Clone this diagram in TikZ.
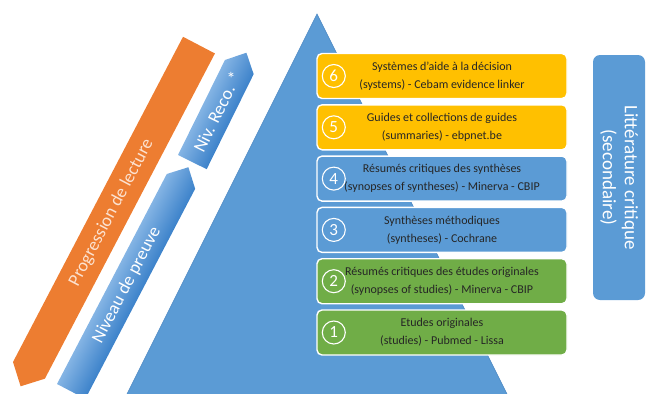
\documentclass[tikz,border=0pt]{standalone}
\usepackage{fontspec}
\setmainfont{Carlito}
\definecolor{ogold}{HTML}{FFC000}
\definecolor{oblue}{HTML}{5B9BD5}
\definecolor{ogreen}{HTML}{70AD47}
\definecolor{oorange}{HTML}{ED7D31}
\definecolor{arrowlight}{HTML}{84B4E4}
\definecolor{arrowdark}{HTML}{3C82CA}
\definecolor{trianglerim}{HTML}{4A86C2}
\definecolor{txtdark}{HTML}{262626}
\definecolor{paleorange}{HTML}{FCE2D0}
\begin{document}
\begin{tikzpicture}[x=1pt,y=1pt,
  lvbox/.style={draw=white, line width=1.4pt, rounded corners=5pt,
    minimum width=250pt, minimum height=45pt, inner sep=0pt,
    align=center, text=txtdark, font=\fontsize{12}{18}\selectfont},
  numcirc/.style={circle, draw=white, line width=1.1pt, minimum size=23pt,
    inner sep=0pt, text=white, font=\fontsize{17}{17}\selectfont},
  bandtext/.style={text=white, inner sep=0pt, font=\fontsize{18}{18}\selectfont},
  bandshade/.style={top color=arrowlight, bottom color=arrowdark}
]
\useasboundingbox (0,0) rectangle (646,-394);
\clip (0,0) rectangle (646,-394);

% evidence pyramid
\filldraw[fill=oblue, draw=trianglerim, line width=0.6pt]
  (317,-14) -- (124,-400) -- (510,-400) -- cycle;

% reading-progression band (points downwards)
\begin{scope}[transform canvas={shift={(13pt,-362pt)}, rotate=62.4}]
  \fill[oorange] (0,0) -- (367,0) -- (367,-36) -- (0,-36) -- (-18,-18) -- cycle;
  \node[bandtext, text=paleorange] (lecture) at (178,-18) {Progression de lecture};
\end{scope}

% level-of-evidence arrow
\begin{scope}[transform canvas={shift={(57pt,-384pt)}, rotate=62.4}]
  \shade[bandshade] (0,0) -- (237,0) -- (253,-16) -- (237,-32) -- (0,-32) -- cycle;
  \node[bandtext] (preuve) at (120,-16) {Niveau de preuve};
\end{scope}

% recommendation-level arrow
\begin{scope}[transform canvas={shift={(178pt,-155pt)}, rotate=63.7}]
  \shade[bandshade] (0,0) -- (106,0) -- (122,-16) -- (106,-32) -- (0,-32) -- cycle;
  \node[bandtext] (reco) at (56,-16) {Niv. Reco. *};
\end{scope}

% levels of the pyramid
\node[lvbox, fill=ogold]  (l6) at (442,-76)    {Systèmes d’aide à la décision\\(systems) - Cebam evidence linker};
\node[lvbox, fill=ogold]  (l5) at (442,-127.3) {Guides et collections de guides\\(summaries) - ebpnet.be};
\node[lvbox, fill=oblue]  (l4) at (442,-178.6) {Résumés critiques des synthèses\\(synopses of syntheses) - Minerva - CBIP};
\node[lvbox, fill=oblue]  (l3) at (442,-229.9) {Synthèses méthodiques\\(syntheses) - Cochrane};
\node[lvbox, fill=ogreen] (l2) at (442,-281.2) {Résumés critiques des études originales\\(synopses of studies) - Minerva - CBIP};
\node[lvbox, fill=ogreen] (l1) at (442,-332.5) {Etudes originales\\(studies) - Pubmed - Lissa};

\foreach \k in {1,...,6}
  \node[numcirc] (n\k) at ([xshift=17.5pt]l\k.west) {\k};

% secondary literature side label
\node[fill=oblue, rounded corners=7pt, rotate=-90, minimum width=245pt,
  minimum height=52pt, inner sep=0pt, align=center, text=white,
  font=\fontsize{19}{22}\selectfont] (secondaire) at (619,-177.5)
  {Littérature critique\\(secondaire)};
\end{tikzpicture}
\end{document}
